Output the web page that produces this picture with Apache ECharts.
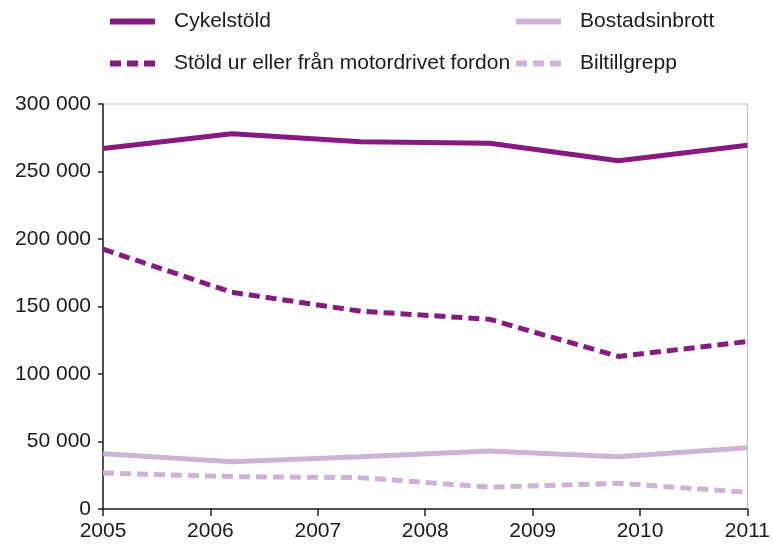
<!DOCTYPE html>
<html>
<head>
<meta charset="utf-8">
<script src="https://cdn.jsdelivr.net/npm/echarts@6/dist/echarts.min.js"></script>
<style>html,body{margin:0;padding:0;background:#fff}#c{width:773px;height:550px}</style>
</head>
<body>
<div id="c"></div>
<script>
var yearLabels = ['2005','2006','2007','2008','2009','2010','2011'];
var pointLabels = ['p1','p2','p3','p4','p5','p6'];
var cykelstold = [267000, 278000, 272000, 271000, 258000, 269500];
var stoldFordon = [192500, 160500, 146500, 140500, 113000, 124000];
var bostadsinbrott = [41000, 35000, 38700, 43000, 38700, 45400];
var biltillgrepp = [26700, 24000, 23200, 16200, 19000, 12400];
var yTicks = {min: 0, max: 300000, interval: 50000};

var dark = '#861a80';
var light = '#cdb3d6';
var font = 'Liberation Sans';

var chart = echarts.init(document.getElementById('c'));
function fmt(v){ return String(v).replace(/\B(?=(\d{3})+(?!\d))/g, ' '); }
var legendText = {fontFamily: font, fontSize: 21, color: '#1a1a1a', lineHeight: 20, padding: [0, 0, 0, 14]};
var legendCommon = {orient: 'vertical', top: 6, itemWidth: 45, itemHeight: 14, itemGap: 21,
  textStyle: legendText, itemStyle: {opacity: 0}, lineStyle: {width: 6}};
chart.setOption({
  animation: false,
  legend: [
    Object.assign({left: 102, data: ['Cykelstöld', 'Stöld ur eller från motordrivet fordon']}, legendCommon),
    Object.assign({left: 508, data: ['Bostadsinbrott', 'Biltillgrepp']}, legendCommon)
  ],
  grid: {left: 103, right: 22, top: 104, bottom: 41, show: true, borderColor: '#b9c0c7', borderWidth: 1},
  xAxis: [
    {type: 'category', data: yearLabels, boundaryGap: false,
     axisLine: {lineStyle: {color: '#222', width: 1.5}},
     axisTick: {length: 7, lineStyle: {color: '#222', width: 1.5}},
     axisLabel: {fontFamily: font, fontSize: 21, color: '#1a1a1a', margin: 12}},
    {type: 'category', data: pointLabels, boundaryGap: false, show: false}
  ],
  yAxis: {type: 'value', min: yTicks.min, max: yTicks.max, interval: yTicks.interval,
    splitLine: {show: false},
    axisLine: {show: true, lineStyle: {color: '#222', width: 1.5}},
    axisTick: {show: true, length: 5, lineStyle: {color: '#222', width: 1.5}},
    axisLabel: {fontFamily: font, fontSize: 21, color: '#1a1a1a', margin: 12, formatter: fmt}},
  series: [
    {name: 'Cykelstöld', type: 'line', xAxisIndex: 1, data: cykelstold, symbol: 'none',
     lineStyle: {color: dark, width: 5}, itemStyle: {color: dark}},
    {name: 'Stöld ur eller från motordrivet fordon', type: 'line', xAxisIndex: 1, data: stoldFordon, symbol: 'none',
     lineStyle: {color: dark, width: 5, type: [11, 6]}, itemStyle: {color: dark}},
    {name: 'Bostadsinbrott', type: 'line', xAxisIndex: 1, data: bostadsinbrott, symbol: 'none',
     lineStyle: {color: light, width: 5}, itemStyle: {color: light}},
    {name: 'Biltillgrepp', type: 'line', xAxisIndex: 1, data: biltillgrepp, symbol: 'none',
     lineStyle: {color: light, width: 5, type: [11, 6]}, itemStyle: {color: light}}
  ]
});
</script>
</body>
</html>
